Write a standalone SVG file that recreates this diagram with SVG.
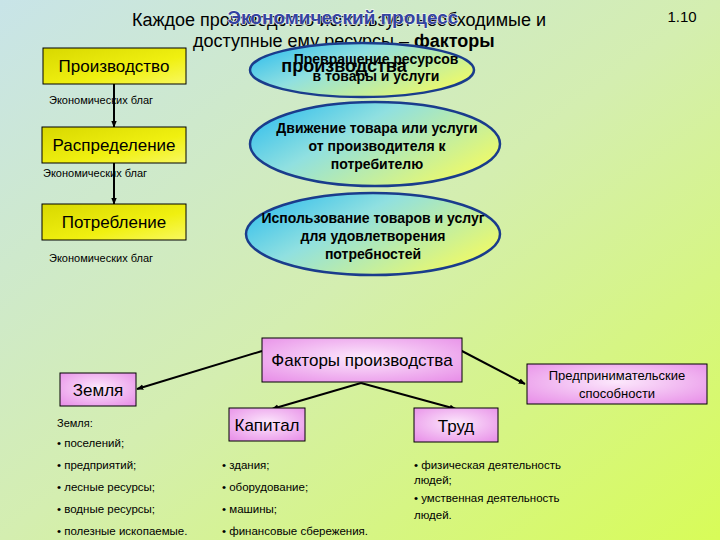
<svg xmlns="http://www.w3.org/2000/svg" width="720" height="540" viewBox="0 0 720 540">
<defs>
<linearGradient id="bg" x1="0" y1="0" x2="1" y2="1">
<stop offset="0" stop-color="#c8e4e8"/>
<stop offset="0.5" stop-color="#d4eeb0"/>
<stop offset="1" stop-color="#d8fc58"/>
</linearGradient>
<linearGradient id="yel" x1="0" y1="0" x2="1" y2="1">
<stop offset="0" stop-color="#d8d800"/>
<stop offset="0.6" stop-color="#f0f010"/>
<stop offset="1" stop-color="#f8f860"/>
</linearGradient>
<linearGradient id="ell" x1="0" y1="0" x2="1" y2="0.6">
<stop offset="0" stop-color="#20b8f0"/>
<stop offset="0.45" stop-color="#90e0e0"/>
<stop offset="1" stop-color="#e8f870"/>
</linearGradient>
<radialGradient id="pink" cx="0.5" cy="0.45" r="0.7">
<stop offset="0" stop-color="#fce8fc"/>
<stop offset="1" stop-color="#e890e8"/>
</radialGradient>
<marker id="ah" viewBox="0 0 10 10" refX="9" refY="5" markerWidth="7" markerHeight="7" orient="auto" markerUnits="userSpaceOnUse">
<path d="M0,1 L10,5 L0,9 z" fill="#000"/>
</marker>
<style>
.t{font-family:"Liberation Sans",Arial,sans-serif;fill:#000}
.sm{font-size:11px}
.li{font-size:11.5px}
.bx{font-size:17px}
.eb{font-size:14px;font-weight:bold;text-anchor:middle}
.yb{fill:url(#yel);stroke:#000;stroke-width:1}
.pb{fill:url(#pink);stroke:#000;stroke-width:1}
.el{fill:url(#ell);stroke:#1a3c8c;stroke-width:2.5}
.cn{stroke:#000;stroke-width:2;fill:none}
</style>
</defs>
<rect width="720" height="540" fill="url(#bg)"/>

<g id="header">
<text class="t" x="339" y="26" font-size="18" text-anchor="middle">Каждое производство использует необходимые и</text>
<text class="t" x="193" y="47" font-size="18">доступные ему ресурсы – <tspan font-weight="bold">факторы</tspan></text>
<text class="t" x="682" y="22" font-size="15" text-anchor="middle" fill="#222">1.10</text>
<text x="343" y="24" font-family="Liberation Sans,Arial,sans-serif" font-size="19" font-weight="bold" text-anchor="middle" fill="#3444a0" stroke="#ffffff" stroke-width="1" paint-order="stroke">Экономический процесс</text>
</g>

<g id="connectors">
<line class="cn" x1="114" y1="84" x2="114" y2="127" marker-end="url(#ah)"/>
<line class="cn" x1="114" y1="163" x2="114" y2="204" marker-end="url(#ah)"/>
<line class="cn" x1="262" y1="351" x2="137" y2="389" marker-end="url(#ah)"/>
<line class="cn" x1="460" y1="350" x2="525" y2="384" marker-end="url(#ah)"/>
<line class="cn" x1="361" y1="383" x2="272" y2="409" marker-end="url(#ah)"/>
<line class="cn" x1="361" y1="383" x2="456" y2="409" marker-end="url(#ah)"/>
</g>

<g id="proizvodstvo">
<rect class="yb" x="43" y="48" width="143" height="36"/>
<text class="t bx" x="114" y="72" text-anchor="middle">Производство</text>
<text class="t sm" x="49" y="104">Экономических благ</text>
</g>
<g id="raspredelenie">
<rect class="yb" x="42" y="127" width="144" height="36"/>
<text class="t bx" x="114" y="151" text-anchor="middle">Распределение</text>
<text class="t sm" x="43" y="177">Экономических благ</text>
</g>
<g id="potreblenie">
<rect class="yb" x="42" y="204" width="144" height="36"/>
<text class="t bx" x="114" y="228" text-anchor="middle">Потребление</text>
<text class="t sm" x="49" y="262">Экономических благ</text>
</g>

<g id="ell1">
<ellipse class="el" cx="362" cy="70" rx="112" ry="27"/>
<text class="t eb" x="376" y="64" font-size="13">Превращение ресурсов</text>
<text class="t eb" x="376" y="81" font-size="13">в товары и услуги</text>
</g>
<g id="proizvodstva-word">
<text class="t" x="344" y="72" font-size="18" font-weight="bold" text-anchor="middle">производства</text>
</g>
<g id="ell2">
<ellipse class="el" cx="375" cy="144" rx="125" ry="42"/>
<text class="t eb" x="377" y="133">Движение товара или услуги</text>
<text class="t eb" x="377" y="151">от производителя к</text>
<text class="t eb" x="377" y="169">потребителю</text>
</g>
<g id="ell3">
<ellipse class="el" cx="373" cy="234" rx="127" ry="41"/>
<text class="t eb" x="373" y="223">Использование товаров и услуг</text>
<text class="t eb" x="373" y="241">для удовлетворения</text>
<text class="t eb" x="373" y="259">потребностей</text>
</g>

<g id="faktory">
<rect class="pb" x="262" y="338" width="200" height="44"/>
<text class="t bx" x="362" y="366" text-anchor="middle">Факторы производства</text>
</g>
<g id="zemlya">
<rect class="pb" x="60" y="373" width="76" height="33"/>
<text class="t bx" x="98" y="396" text-anchor="middle">Земля</text>
</g>
<g id="predpr">
<rect class="pb" x="527" y="364" width="180" height="40"/>
<text class="t" x="617" y="380" font-size="13" text-anchor="middle">Предпринимательские</text>
<text class="t" x="617" y="398" font-size="13" text-anchor="middle">способности</text>
</g>
<g id="kapital">
<rect class="pb" x="229" y="408" width="76" height="33"/>
<text class="t bx" x="267" y="431" text-anchor="middle">Капитал</text>
</g>
<g id="trud">
<rect class="pb" x="414" y="408" width="84" height="34"/>
<text class="t bx" x="456" y="432" text-anchor="middle">Труд</text>
</g>

<g id="list-zemlya">
<text class="t sm" x="57" y="427">Земля:</text>
<text class="t li" x="57" y="447">• поселений;</text>
<text class="t li" x="57" y="469">• предприятий;</text>
<text class="t li" x="57" y="491">• лесные ресурсы;</text>
<text class="t li" x="57" y="513">• водные ресурсы;</text>
<text class="t li" x="57" y="535">• полезные ископаемые.</text>
</g>
<g id="list-kapital">
<text class="t li" x="222" y="469">• здания;</text>
<text class="t li" x="222" y="491">• оборудование;</text>
<text class="t li" x="222" y="513">• машины;</text>
<text class="t li" x="222" y="535">• финансовые сбережения.</text>
</g>
<g id="list-trud">
<text class="t li" x="414" y="469">• физическая деятельность</text>
<text class="t li" x="414" y="484">людей;</text>
<text class="t li" x="414" y="502">• умственная деятельность</text>
<text class="t li" x="414" y="519">людей.</text>
</g>
</svg>
